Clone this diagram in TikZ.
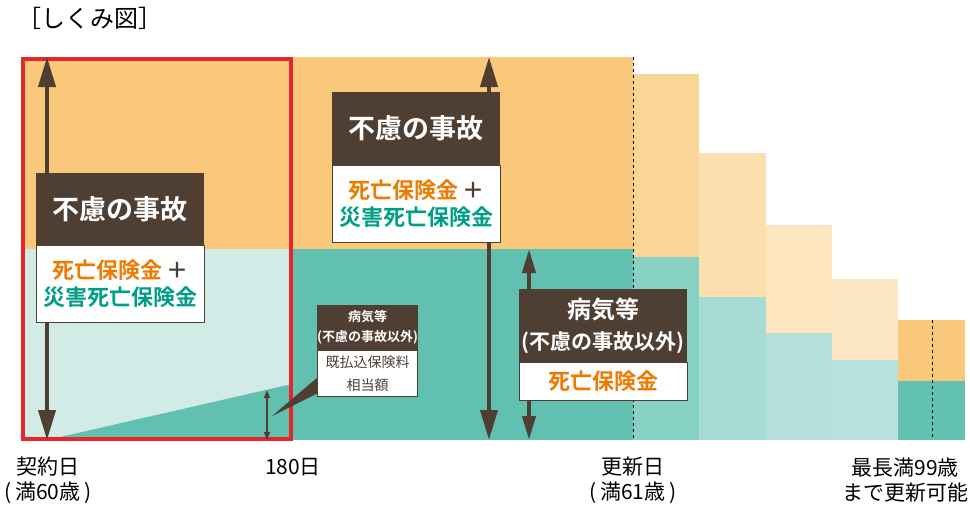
\documentclass[tikz,border=0pt]{standalone}
\usepackage{fontspec}
\setmainfont{Noto Sans CJK JP}[BoldFont={Noto Sans CJK JP Bold}]
\usetikzlibrary{arrows.meta}
\definecolor{org}{HTML}{F9C87A}
\definecolor{tea}{HTML}{62C0B0}
\definecolor{ltea}{HTML}{D2EBE6}
\definecolor{oa}{HTML}{FAD596}\definecolor{ta}{HTML}{88D2C5}
\definecolor{ob}{HTML}{FCDFAE}\definecolor{tb}{HTML}{A7DCD4}
\definecolor{oc}{HTML}{FDE5C0}\definecolor{tc}{HTML}{B5E0DA}
\definecolor{od}{HTML}{FDE6C3}\definecolor{td}{HTML}{B8E2DC}
\definecolor{brn}{HTML}{4F3F33}
\definecolor{otx}{HTML}{EE7A00}
\definecolor{ttx}{HTML}{009E87}
\definecolor{rd}{HTML}{E5262A}
\newcommand{\fsz}[2]{\fontsize{#1}{#2}\selectfont}
\begin{document}
\begin{tikzpicture}[x=1pt,y=-1pt,
  dbox/.style={fill=brn, text=white, inner sep=0pt, anchor=north west, align=center, font=\bfseries},
  wbox/.style={fill=white, draw=brn, line width=1.2pt, inner sep=0pt, anchor=north west, align=center, font=\bfseries},
  bigarr/.style={draw=brn, line width=4pt, {Triangle[length=30pt,width=17pt]}-{Triangle[length=30pt,width=17pt]}},
  midarr/.style={draw=brn, line width=4pt, {Triangle[length=24pt,width=13pt]}-{Triangle[length=24pt,width=13pt]}},
  smallarr/.style={draw=brn, line width=1.5pt, {Triangle[length=8pt,width=6pt]}-{Triangle[length=8pt,width=6pt]}},
  dline/.style={draw=black, line width=1pt, dash pattern=on 3pt off 3pt},
  lbl/.style={align=center, text=black, font=\fsz{21}{25}, inner sep=0pt}
]
\useasboundingbox (0,0) rectangle (970,507);
% title
\node[anchor=west, inner sep=0pt, font=\fsz{24}{26}] (title) at (17,18) {［しくみ図］};
% main areas
\fill[org] (22,57) rectangle (633,249);
\fill[ltea] (22,249) rectangle (292,440);
\fill[tea] (292,249) rectangle (633,440);
\fill[tea] (47,440) -- (292,384) -- (292,440) -- cycle;
% renewal columns
\fill[oa] (633,74) rectangle (699,257); \fill[ta] (633,257) rectangle (699,440);
\fill[ob] (699,153) rectangle (766,297); \fill[tb] (699,297) rectangle (766,440);
\fill[oc] (766,225) rectangle (832,333); \fill[tc] (766,333) rectangle (832,440);
\fill[od] (832,279) rectangle (898,360); \fill[td] (832,360) rectangle (898,440);
\fill[org] (898,320) rectangle (965,381); \fill[tea] (898,381) rectangle (965,440);
% dashed lines
\coordinate (dA1) at (633,57); \coordinate (dA2) at (633,440);
\coordinate (dB1) at (932,320); \coordinate (dB2) at (932,440);
\draw[dline] (dA1) -- (dA2);
\draw[dline] (dB1) -- (dB2);
% red frame
\draw[rd, line width=4pt] (23,59) rectangle (291,439);
% arrows
\coordinate (aT) at (47,57); \coordinate (aB) at (47,440);
\coordinate (bT) at (489,57); \coordinate (bB) at (489,440);
\coordinate (cT) at (529,249); \coordinate (cB) at (529,440);
\coordinate (sT) at (267,390); \coordinate (sB) at (267,440);
\draw[bigarr] (aT) -- (aB);
\draw[bigarr] (bT) -- (bB);
\draw[midarr] (cT) -- (cB);
\draw[smallarr] (sT) -- (sB);
% callout pointer
\coordinate (ptip) at (272,416);
\fill[brn] (318,377) -- (ptip) -- (318,393) -- cycle;
% left box
\node[dbox, minimum width=168pt, minimum height=72pt, font=\bfseries\fsz{27}{30}] (L1) at (36,173) {不慮の事故};
\node[wbox, minimum width=168pt, minimum height=77pt, font=\bfseries\fsz{22}{27}] (L2) at (36,245)
  {\textcolor{otx}{死亡保険金}\,\textcolor{brn}{＋}\\\textcolor{ttx}{災害死亡保険金}};
% middle box
\node[dbox, minimum width=168pt, minimum height=73pt, font=\bfseries\fsz{27}{30}] (M1) at (332,92) {不慮の事故};
\node[wbox, minimum width=168pt, minimum height=77pt, font=\bfseries\fsz{22}{27}] (M2) at (332,165)
  {\textcolor{otx}{死亡保険金}\,\textcolor{brn}{＋}\\\textcolor{ttx}{災害死亡保険金}};
% right box
\node[dbox, minimum width=168pt, minimum height=73pt] (R1) at (519,289)
  {{\fsz{24}{26}病気等}\\[9pt]{\fsz{21}{26}(不慮の事故以外)}};
\node[wbox, minimum width=168pt, minimum height=38pt, font=\bfseries\fsz{22}{26}] (R2) at (519,362)
  {\textcolor{otx}{死亡保険金}};
% small box
\node[dbox, minimum width=100pt, minimum height=45pt, font=\bfseries\fsz{13}{20}] (S1) at (317,305)
  {病気等\\(不慮の事故以外)};
\node[wbox, minimum width=100pt, minimum height=46pt, font=\fsz{14}{23}, text=brn] (S2) at (317,350)
  {既払込保険料\\相当額};
% bottom labels
\node[lbl] (t0) at (48,480) {契約日\\(\,満60歳\,)};
\node[lbl] (t1) at (293,467) {180日};
\node[lbl] (t2) at (633,480) {更新日\\(\,満61歳\,)};
\node[lbl] (t3) at (905,480) {最長満99歳\\まで更新可能};
\end{tikzpicture}
\end{document}
